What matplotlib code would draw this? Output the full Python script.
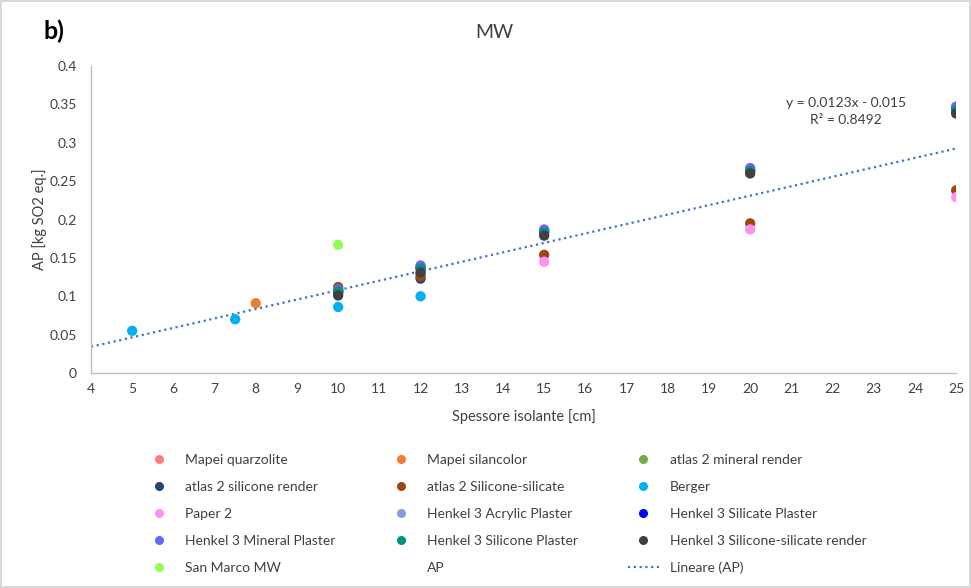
import matplotlib
matplotlib.use("Agg")
import matplotlib.pyplot as plt
from matplotlib.lines import Line2D
import numpy as np

plt.rcParams['font.family'] = ['Lato', 'DejaVu Sans']

# Insulation thickness [cm] and acidification potential [kg SO2 eq.] per product
series_names = [
    "Mapei quarzolite", "Mapei silancolor", "atlas 2 mineral render",
    "atlas 2 silicone render", "atlas 2 Silicone-silicate", "Berger",
    "Paper 2", "Henkel 3 Acrylic Plaster", "Henkel 3 Silicate Plaster",
    "Henkel 3 Mineral Plaster", "Henkel 3 Silicone Plaster", "Henkel 3 Silicone-silicate render",
    "San Marco MW",
]
series_colors = [
    "#FF7C80", "#ED7D31", "#70AD47",
    "#264478", "#9E480E", "#00B0F0",
    "#FF91F5", "#7F9FD9", "#0000FF",
    "#6666FF", "#00927E", "#404040",
    "#92FF50",
]

mapei_quarzolite_x = [12]
mapei_quarzolite_y = [0.130]
mapei_silancolor_x = [8]
mapei_silancolor_y = [0.091]
atlas_mineral_x = [10]
atlas_mineral_y = [0.104]
atlas_silicone_x = [10, 12]
atlas_silicone_y = [0.105, 0.123]
atlas_silsil_x = [10, 12, 15, 20, 25]
atlas_silsil_y = [0.112, 0.126, 0.154, 0.195, 0.238]
berger_x = [5, 7.5, 10, 12]
berger_y = [0.055, 0.070, 0.086, 0.100]
paper2_x = [15, 20, 25]
paper2_y = [0.145, 0.187, 0.229]
henkel_acrylic_x = [10, 12, 15, 20, 25]
henkel_acrylic_y = [0.108, 0.138, 0.185, 0.265, 0.345]
henkel_silicate_x = [10, 12, 15, 20, 25]
henkel_silicate_y = [0.107, 0.137, 0.184, 0.264, 0.344]
henkel_mineral_x = [10, 12, 15, 20, 25]
henkel_mineral_y = [0.109, 0.140, 0.187, 0.267, 0.347]
henkel_silicone_x = [10, 12, 15, 20, 25]
henkel_silicone_y = [0.106, 0.136, 0.183, 0.263, 0.342]
henkel_silsil_x = [10, 12, 15, 20, 25]
henkel_silsil_y = [0.101, 0.131, 0.179, 0.260, 0.338]
san_marco_x = [10]
san_marco_y = [0.167]

series_x = [mapei_quarzolite_x, mapei_silancolor_x, atlas_mineral_x,
            atlas_silicone_x, atlas_silsil_x, berger_x,
            paper2_x, henkel_acrylic_x, henkel_silicate_x,
            henkel_mineral_x, henkel_silicone_x, henkel_silsil_x,
            san_marco_x]
series_y = [mapei_quarzolite_y, mapei_silancolor_y, atlas_mineral_y,
            atlas_silicone_y, atlas_silsil_y, berger_y,
            paper2_y, henkel_acrylic_y, henkel_silicate_y,
            henkel_mineral_y, henkel_silicone_y, henkel_silsil_y,
            san_marco_y]

# Linear trend of the AP series
trend_slope = 0.0123
trend_intercept = -0.015
trend_r2 = 0.8492

x_ticks = list(range(4, 26))
y_ticks = [0, 0.05, 0.1, 0.15, 0.2, 0.25, 0.3, 0.35, 0.4]
y_tick_labels = ["0", "0.05", "0.1", "0.15", "0.2", "0.25", "0.3", "0.35", "0.4"]

fig = plt.figure(figsize=(9.71, 5.88), dpi=100)
fig.patch.set_edgecolor("#D9D9D9")
fig.patch.set_linewidth(1.5)
ax = fig.add_axes([0.0937, 0.3656, 0.891, 0.5222])

for xs, ys, c in zip(series_x, series_y, series_colors):
    ax.scatter(xs, ys, s=55, color=c, edgecolors="none", zorder=3)

tx = np.array([4, 25])
ax.plot(tx, trend_slope * tx + trend_intercept, color="#4472C4",
        linestyle=(0, (1, 1.6)), linewidth=1.6, zorder=2)

ax.set_xlim(4, 25)
ax.set_ylim(0, 0.4)
ax.set_xticks(x_ticks)
ax.set_yticks(y_ticks)
ax.set_yticklabels(y_tick_labels)
ax.tick_params(axis="both", length=0, labelsize=10, colors="#404040")
ax.tick_params(axis="x", pad=7)
ax.tick_params(axis="y", pad=10)
for side in ["top", "right"]:
    ax.spines[side].set_visible(False)
for side in ["left", "bottom"]:
    ax.spines[side].set_color("#BFBFBF")
    ax.spines[side].set_linewidth(1)

ax.set_xlabel("Spessore isolante [cm]", fontsize=10.5, color="#404040", labelpad=10)
ax.set_ylabel("AP [kg SO2 eq.]", fontsize=10.5, color="#404040", labelpad=2)

ax.text(0.9425, 0.852, f"y = {trend_slope}x - {abs(trend_intercept)}\nR² = {trend_r2}",
        transform=ax.transAxes, ha="right", va="center", fontsize=10,
        color="#404040", linespacing=1.45, multialignment="center")

fig.text(0.509, 0.944, "MW", ha="center", va="center", fontsize=14, color="#404040")
fig.text(0.045, 0.947, "b)", ha="left", va="center", fontsize=18, fontweight="bold", color="black")

# Legend: row-major entries, reordered for matplotlib's column-major fill
handles = [Line2D([], [], linestyle="none", marker="o", markersize=6.5,
                  markerfacecolor=c, markeredgecolor="none") for c in series_colors]
labels = list(series_names)
handles.append(Line2D([], [], linestyle="none", marker=None))
labels.append("AP")
handles.append(Line2D([], [], color="#4472C4", linestyle=(0, (1, 1.6)), linewidth=1.6))
labels.append("Lineare (AP)")

ncol, nrow = 3, 5
order = [r * ncol + c for c in range(ncol) for r in range(nrow)]
leg = fig.legend([handles[i] for i in order], [labels[i] for i in order],
                 ncol=ncol, loc="upper left", bbox_to_anchor=(0.1347, 0.249),
                 frameon=False, fontsize=10, labelcolor="#404040",
                 handlelength=2.2, handletextpad=0.8, columnspacing=3.6,
                 labelspacing=1.07)

fig.savefig("out.png", dpi=100)
